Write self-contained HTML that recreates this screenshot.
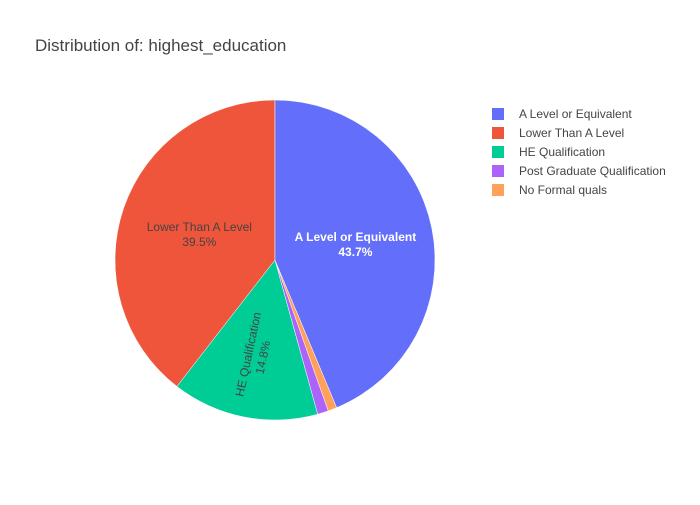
<!DOCTYPE html>
<html><head><meta charset="utf-8"><style>
body{margin:0;background:#fff;font-family:"Liberation Sans",sans-serif;}
</style></head><body>
<svg width="700" height="500" xmlns="http://www.w3.org/2000/svg">
<rect width="700" height="500" fill="#fff"/>
<text x="35" y="51" font-size="17" fill="#444">Distribution of: highest_education</text>
<g id="slices"></g>
<g id="labels" font-size="12"></g>
<g id="legend" font-size="12"></g>
</svg>
<script>
const categories=["A Level or Equivalent","Lower Than A Level","HE Qualification","Post Graduate Qualification","No Formal quals"];
const values=[43.7,39.5,14.8,1.1,0.9];
const colors=["#636efa","#ef553b","#00cc96","#ab63fa","#ffa15a"];
const drawOrder=[1,2,3,4,0];
const NS="http://www.w3.org/2000/svg";
const cx=275,cy=260,R=160;
const total=values.reduce((a,b)=>a+b,0);
function pt(frac,r){const a=-frac*2*Math.PI;return [cx+r*Math.sin(a),cy-r*Math.cos(a)];}
const sg=document.getElementById('slices'),lg=document.getElementById('labels'),leg=document.getElementById('legend');
let acc=0;
drawOrder.forEach(i=>{
  const v=values[i];
  const f0=acc/total,f1=(acc+v)/total;acc+=v;
  const [x0,y0]=pt(f0,R),[x1,y1]=pt(f1,R);
  const p=document.createElementNS(NS,'path');
  p.setAttribute('d',`M${cx},${cy}L${x0},${y0}A${R},${R} 0 ${(f1-f0)>0.5?1:0} 0 ${x1},${y1}Z`);
  p.setAttribute('fill',colors[i]);p.setAttribute('stroke','#fff');p.setAttribute('stroke-width','0.5');
  
  
  sg.appendChild(p);
  const pct=(v/total*100).toFixed(1)+'%';
  const fm=(f0+f1)/2;
  if(i<3){
    const t=document.createElementNS(NS,'text');
    t.setAttribute('text-anchor','middle');
    
    
    let x,y,rot=0,fill='#444',bold=false;
    if(i===0){[x,y]=pt(fm,82);y-=3;fill='#fff';bold=true;}
    else if(i===1){[x,y]=pt(fm,80);y-=3;}
    else{[x,y]=pt(fm,97);rot=-78;x-=4;y+=0;}
    t.setAttribute('transform',`translate(${x},${y}) rotate(${rot})`);
    t.setAttribute('fill',fill);
    if(bold)t.setAttribute('font-weight','bold');
    t.innerHTML=`<tspan x="0" dy="0">${categories[i]}</tspan><tspan x="0" dy="15">${pct}</tspan>`;
    lg.appendChild(t);
  }
});
categories.forEach((c,i)=>{
  const r=document.createElementNS(NS,'rect');
  r.setAttribute('x',492);r.setAttribute('y',108+i*19);r.setAttribute('width',12);r.setAttribute('height',12);
  r.setAttribute('fill',colors[i]);
  
  
  leg.appendChild(r);
  const lt=document.createElementNS(NS,'text');
  lt.setAttribute('x',519);lt.setAttribute('y',118+i*19);lt.setAttribute('fill','#444');
  lt.textContent=c;
  
  
  leg.appendChild(lt);
});
</script>
</body></html>
